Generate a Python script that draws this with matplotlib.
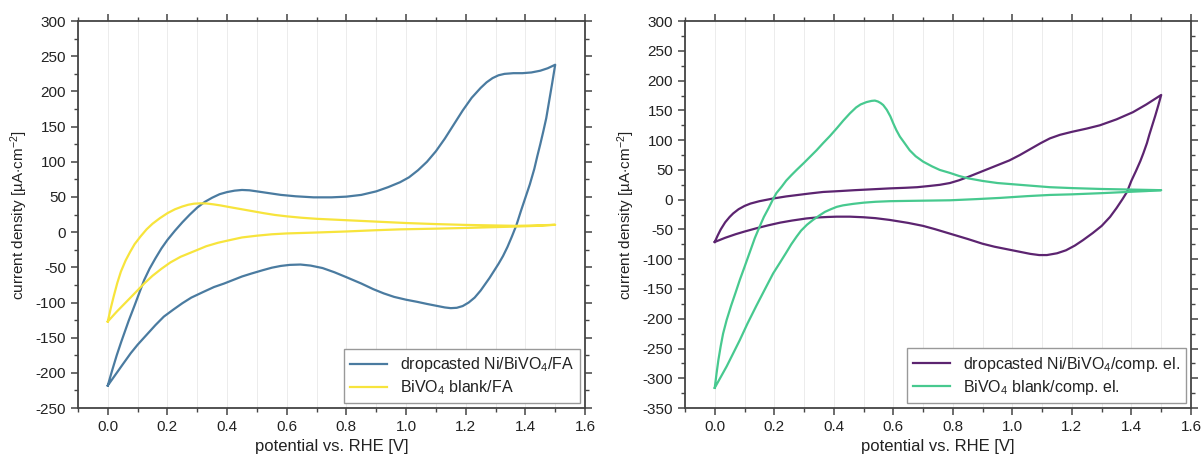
import numpy as np
import matplotlib
matplotlib.use('Agg')
import matplotlib.pyplot as plt
from matplotlib.ticker import MultipleLocator

plt.rcParams['font.family'] = ['Liberation Sans', 'DejaVu Sans']
plt.rcParams['mathtext.fontset'] = 'custom'
plt.rcParams['mathtext.rm'] = 'Liberation Sans'
plt.rcParams['mathtext.it'] = 'Liberation Sans:italic'
plt.rcParams['axes.unicode_minus'] = False

# --- left panel: FA electrolyte ---
# dropcasted Ni/BiVO4/FA, anodic then cathodic sweep
ni_fa_v = [0.0, 0.015, 0.03, 0.045, 0.055, 0.07, 0.09, 0.105, 0.122, 0.14, 0.16, 0.18, 0.2, 0.225,
           0.25, 0.275, 0.3, 0.325, 0.35, 0.375, 0.4, 0.425, 0.45, 0.475, 0.5, 0.54, 0.58, 0.63,
           0.69, 0.75, 0.8, 0.85, 0.9, 0.94, 0.98, 1.01, 1.04, 1.07, 1.1, 1.13, 1.16, 1.19, 1.22,
           1.25, 1.27, 1.29, 1.31, 1.33, 1.36, 1.39, 1.42, 1.45, 1.475, 1.5,
           1.49, 1.48, 1.47, 1.46, 1.45, 1.44, 1.43, 1.415, 1.4, 1.385, 1.37, 1.355, 1.34, 1.325,
           1.31, 1.295, 1.28, 1.265, 1.25, 1.23, 1.21, 1.19, 1.17, 1.15, 1.13, 1.1, 1.07, 1.037,
           1.0, 0.96, 0.925, 0.89, 0.85, 0.8, 0.76, 0.72, 0.68, 0.646, 0.61, 0.58, 0.55, 0.52,
           0.48, 0.45, 0.42, 0.39, 0.356, 0.32, 0.28, 0.25, 0.22, 0.188, 0.16, 0.13, 0.1, 0.077,
           0.05, 0.025, 0.0]
ni_fa_i = [-218, -196, -175, -156, -144, -126, -104, -87, -68, -52, -37, -23, -11, 2,
           14, 25, 35, 43, 49, 54, 57, 59, 60, 59.5, 58, 55.5, 53, 51,
           49.5, 49.5, 50.5, 53, 58, 64, 71, 78, 88, 100, 115, 133, 153, 173, 191,
           205, 213, 219, 223, 225, 226, 226, 227, 229.5, 233, 238,
           212, 187, 162, 143, 125, 108, 90, 68, 49, 30, 10, -6, -21, -34,
           -45, -55, -65, -74, -83, -93, -100, -105, -107.5, -108, -107, -104.5, -102, -99,
           -96, -92, -87, -81, -73, -64, -57, -51, -47.5, -46, -46.5, -48, -50.5, -54,
           -59, -63, -68, -73, -78, -85, -93, -101, -110, -120, -132, -146, -160, -172,
           -188, -203, -218]

# BiVO4 blank/FA
bv_fa_v = [0.0, 0.01, 0.02, 0.032, 0.044, 0.06, 0.075, 0.09, 0.11, 0.13, 0.15, 0.175, 0.2, 0.225,
           0.25, 0.27, 0.289, 0.31, 0.33, 0.355, 0.378, 0.41, 0.45, 0.49, 0.523, 0.56, 0.6, 0.65,
           0.7, 0.8, 0.9, 1.0, 1.1, 1.2, 1.3, 1.37, 1.44, 1.5,
           1.44, 1.37, 1.3, 1.2, 1.1, 0.98, 0.9, 0.8, 0.7, 0.6, 0.55, 0.5, 0.45, 0.412, 0.37,
           0.33, 0.29, 0.244, 0.21, 0.18, 0.15, 0.122, 0.09, 0.06, 0.03, 0.0]
bv_fa_i = [-127, -108, -91, -72, -56, -40, -28, -17, -6, 4, 12, 20, 27, 32.5,
           36.5, 39, 40.5, 41, 40.8, 39.5, 38, 35.5, 32.5, 29.5, 27, 24.5, 22.5, 20.5,
           19, 17, 15, 13, 11.5, 10.3, 9.5, 9, 9.6, 10.5,
           9, 8, 7.2, 6, 5, 4, 2.8, 1, -0.5, -1.8, -3, -5, -7.5, -11, -15,
           -20, -27, -35, -43, -52, -62, -73, -87, -100, -113, -127]

# --- right panel: compensating electrolyte ---
ni_ce_v = [0.0, 0.01, 0.02, 0.035, 0.05, 0.062, 0.08, 0.1, 0.12, 0.15, 0.196, 0.24, 0.28, 0.32,
           0.364, 0.42, 0.47, 0.53, 0.588, 0.64, 0.68, 0.72, 0.756, 0.79, 0.82, 0.85, 0.885,
           0.92, 0.955, 0.99, 1.025, 1.06, 1.095, 1.126, 1.16, 1.2, 1.25, 1.294, 1.35, 1.405,
           1.45, 1.5,
           1.49, 1.48, 1.47, 1.46, 1.452, 1.44, 1.43, 1.415, 1.4, 1.385, 1.37, 1.35, 1.328,
           1.3, 1.27, 1.237, 1.21, 1.18, 1.15, 1.116, 1.09, 1.06, 1.02, 0.98, 0.94, 0.9, 0.85,
           0.79, 0.74, 0.7, 0.65, 0.588, 0.54, 0.5, 0.454, 0.41, 0.38, 0.34, 0.308, 0.26, 0.22,
           0.18, 0.14, 0.1, 0.07, 0.035, 0.0]
ni_ce_i = [-71, -60, -50, -38, -29, -23, -16, -10.5, -6.5, -2.5, 2, 5.5, 8, 10.5,
           13, 14.5, 16, 17.5, 19, 20, 21, 23, 25, 28, 32.5, 38, 45,
           52, 59, 66, 75, 85, 95, 103, 109, 114, 119.5, 125, 135, 147,
           160, 176,
           158, 141, 125, 109, 95, 78, 65, 48, 32, 13, 1, -14, -29,
           -44, -56, -68, -77, -85, -90, -93, -93, -91, -87, -83, -79, -74, -66,
           -57, -49.5, -44, -39, -34, -31, -29.5, -28.5, -28.5, -29, -30, -31.5, -35, -38.5,
           -43, -48, -53.5, -58, -64, -71]

bv_ce_v = [0.0, 0.006, 0.012, 0.02, 0.028, 0.04, 0.055, 0.07, 0.084, 0.1, 0.12, 0.135, 0.151,
           0.165, 0.18, 0.195, 0.207, 0.225, 0.24, 0.257, 0.275, 0.3, 0.32, 0.342, 0.364, 0.387,
           0.41, 0.432, 0.454, 0.475, 0.49, 0.51, 0.527, 0.538, 0.548, 0.557, 0.566, 0.578, 0.59,
           0.6, 0.61, 0.622, 0.635, 0.655, 0.675, 0.7, 0.73, 0.756, 0.79, 0.82, 0.85, 0.9, 0.95,
           1.0, 1.05, 1.126, 1.2, 1.3, 1.4, 1.5,
           1.45, 1.385, 1.3, 1.2, 1.126, 1.05, 0.958, 0.88, 0.79, 0.72, 0.65, 0.588, 0.54, 0.5,
           0.465, 0.431, 0.41, 0.39, 0.37, 0.353, 0.33, 0.31, 0.29, 0.275, 0.257, 0.24, 0.22,
           0.196, 0.17, 0.14, 0.11, 0.084, 0.06, 0.04, 0.02, 0.0]
bv_ce_i = [-316, -292, -270, -246, -225, -202, -178, -156, -135, -113, -85, -64, -45,
           -29, -15, 0, 11, 22, 32, 41, 50, 62, 72, 83, 95, 107,
           120, 133, 145, 155, 160, 164, 166, 166.5, 165, 162.5, 159, 151, 140,
           128, 117, 106, 97, 83, 73, 64, 56, 50, 45, 40, 36, 31.5, 28,
           26, 24, 21, 19.5, 18, 17, 16,
           14.5, 13, 11, 9, 8, 6, 3, 1, -1, -1.5, -2, -2.5, -3.5, -5,
           -7, -9.5, -12, -16, -20.5, -26, -34, -42, -52, -62, -75, -89, -105,
           -124, -149, -178, -208, -236, -260, -280, -298, -316]

c_blue = '#4a7ba0'
c_yellow = '#f7e43c'
c_purple = '#5c2470'
c_green = '#47c98f'

fig = plt.figure(figsize=(12.03, 4.59), dpi=100)
ax1 = fig.add_axes([0.0648, 0.111, 0.4215, 0.843])
ax2 = fig.add_axes([0.5694, 0.111, 0.4206, 0.843])


def style(ax, ylo, yhi):
    ax.set_xlim(-0.1, 1.6)
    ax.set_ylim(ylo, yhi)
    ax.xaxis.set_major_locator(MultipleLocator(0.2))
    ax.xaxis.set_minor_locator(MultipleLocator(0.1))
    ax.yaxis.set_major_locator(MultipleLocator(50))
    ax.yaxis.set_minor_locator(MultipleLocator(25))
    ax.xaxis.set_major_formatter(plt.FuncFormatter(lambda v, p: '%.1f' % v))
    ax.tick_params(which='both', direction='out', top=True, right=True,
                   labeltop=False, labelright=False, color='#444444',
                   labelsize=11, labelcolor='#222222')
    ax.tick_params(which='major', length=5, width=1.1)
    ax.tick_params(which='minor', length=3, width=1.0)
    for s in ax.spines.values():
        s.set_color('#444444')
        s.set_linewidth(1.3)
    ax.grid(True, axis='x', which='both', color='#ececec', lw=0.7)
    ax.set_axisbelow(True)
    ax.set_xlabel('potential vs. RHE [V]', fontsize=12, color='#222222')
    ax.set_ylabel(r'current density [µA$\cdot$cm$^{-2}$]', fontsize=11, color='#222222',
                  labelpad=4)


style(ax1, -250, 300)
ax1.plot(ni_fa_v, ni_fa_i, color=c_blue, lw=1.6, label=r'dropcasted Ni/BiVO$_4$/FA')
ax1.plot(bv_fa_v, bv_fa_i, color=c_yellow, lw=1.6, label=r'BiVO$_4$ blank/FA')

style(ax2, -350, 300)
ax2.plot(ni_ce_v, ni_ce_i, color=c_purple, lw=1.6, label=r'dropcasted Ni/BiVO$_4$/comp. el.')
ax2.plot(bv_ce_v, bv_ce_i, color=c_green, lw=1.6, label=r'BiVO$_4$ blank/comp. el.')

for ax in (ax1, ax2):
    leg = ax.legend(loc='lower right', fontsize=11.5, fancybox=False, framealpha=1,
                    edgecolor='#999999', borderaxespad=0.3, handlelength=2.3,
                    labelspacing=0.25, borderpad=0.4)
    leg.get_frame().set_linewidth(1.0)
    for t in leg.get_texts():
        t.set_color('#222222')

plt.savefig('out.png', dpi=100)
